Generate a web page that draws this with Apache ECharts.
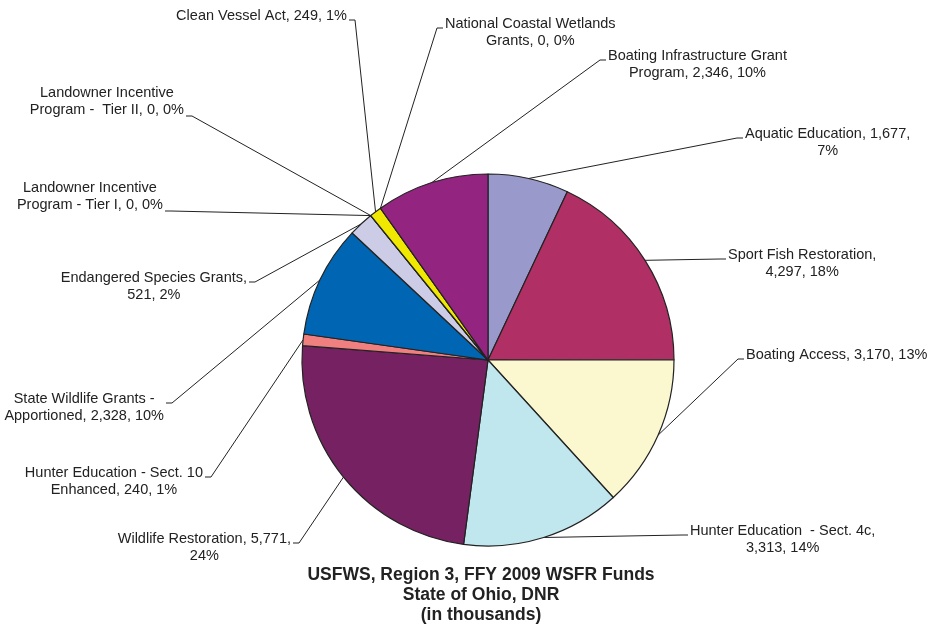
<!DOCTYPE html>
<html>
<head>
<meta charset="utf-8">
<script src="https://cdn.jsdelivr.net/npm/echarts@6/dist/echarts.min.js"></script>
<style>
  html, body { margin: 0; padding: 0; background: #fff; }
  #chart { width: 948px; height: 631px; }
</style>
</head>
<body>
<div id="chart"></div>
<script>
// programs, clockwise from 12 o'clock
const names = [
  'Aquatic Education',
  'Sport Fish Restoration',
  'Boating Access',
  'Hunter Education  - Sect. 4c',
  'Wildlife Restoration',
  'Hunter Education - Sect. 10\nEnhanced',
  'State Wildlife Grants -\nApportioned',
  'Endangered Species Grants',
  'Landowner Incentive\nProgram - Tier I',
  'Landowner Incentive\nProgram -  Tier II',
  'Clean Vessel Act',
  'National Coastal Wetlands\nGrants',
  'Boating Infrastructure Grant\nProgram'
];
// funds, in thousands
const values = [1677, 4297, 3170, 3313, 5771, 240, 2328, 521, 0, 0, 249, 0, 2346];
const colors = ['#9999CC', '#B03066', '#FBF8D0', '#C0E6EE', '#762262', '#F08080',
  '#0066B3', '#CCCCE6', '#CCCCE6', '#CCCCE6', '#F0E800', '#932480', '#932480'];

// where the label text wraps: 0 = no extra break, 1 = after name, 2 = after value
const wrap = [2, 1, 0, 1, 2, 0, 0, 1, 0, 0, 0, 0, 0];
// leader line elbows and which side the label sits on
const elbow = [[737, 138], [720, 259], [738, 359], [682, 535], [299, 543], [211, 477],
  [172, 403], [255, 282], [171, 211], [192, 116], [355, 20], [437, 28], [600, 60]];
const side = ['R', 'R', 'R', 'R', 'L', 'L', 'L', 'L', 'L', 'L', 'L', 'R', 'R'];
const row = [0, 0, 0, 0, 0, 0, 0, 0, 1, 1, 0, 0, 0];

const chart = echarts.init(document.getElementById('chart'), null, { renderer: 'canvas' });

const fmt = v => v.toLocaleString('en-US');

const option = {
  backgroundColor: '#ffffff',
  animation: false,
  title: {
    text: 'USFWS, Region 3, FFY 2009 WSFR Funds\nState of Ohio, DNR\n(in thousands)',
    left: 481,
    top: 565,
    textAlign: 'center',
    padding: 0,
    textStyle: {
      fontFamily: 'Liberation Sans, Arial, sans-serif',
      fontSize: 17.5,
      fontWeight: 'bold',
      lineHeight: 20,
      color: '#222'
    }
  },
  series: [{
    type: 'pie',
    center: [488, 360],
    radius: 186,
    startAngle: 90,
    clockwise: true,
    avoidLabelOverlap: false,
    silent: true,
    data: names.map((n, i) => ({ name: n, value: values[i], itemStyle: { color: colors[i] } })),
    itemStyle: { borderColor: '#222', borderWidth: 1.2 },
    label: {
      show: true,
      position: 'outside',
      fontFamily: 'Liberation Sans, Arial, sans-serif',
      fontSize: 14.5,
      lineHeight: 17,
      color: '#222',
      formatter: function (p) {
        const i = p.dataIndex;
        const pct = Math.round(p.percent) + '%';
        const v = fmt(p.value);
        if (wrap[i] === 1) return p.name + ',\n' + v + ', ' + pct;
        if (wrap[i] === 2) return p.name + ', ' + v + ',\n' + pct;
        return p.name + ', ' + v + ', ' + pct;
      }
    },
    labelLine: {
      show: true,
      length: 10,
      length2: 10,
      lineStyle: { color: '#222', width: 1 }
    },
    labelLayout: function (p) {
      const i = p.dataIndex;
      const e = elbow[i];
      const right = side[i] === 'R';
      const end = [e[0] + (right ? 6 : -6), e[1]];
      const w = p.labelRect.width;
      return {
        x: end[0] + (right ? 2 + w / 2 : -2 - w / 2),
        y: e[1] - (row[i] ? 31.5 : 12.5),
        align: 'center',
        verticalAlign: 'top',
        labelLinePoints: [p.labelLinePoints[0], e, end]
      };
    }
  }]
};

chart.setOption(option);
</script>
</body>
</html>
